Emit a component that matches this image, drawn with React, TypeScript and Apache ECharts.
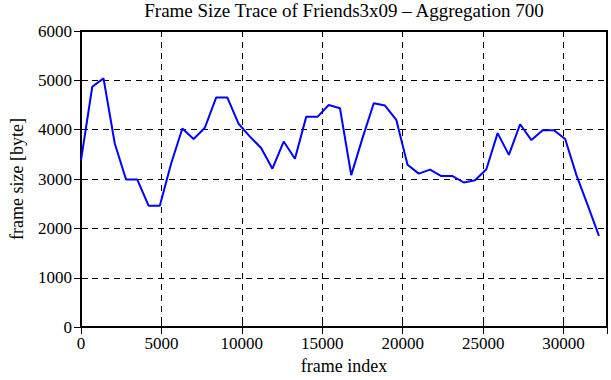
import React, { useEffect, useRef } from "react";
import * as echarts from "echarts";

const titleText = "Frame Size Trace of Friends3x09 \u2013 Aggregation 700";
const xName = "frame index";
const yName = "frame size [byte]";

const frameIndex = [
  0, 700, 1400, 2100, 2800, 3500, 4200, 4900, 5600, 6300, 7000, 7700, 8400, 9100, 9800, 10500,
  11200, 11900, 12600, 13300, 14000, 14700, 15400, 16100, 16800, 17500, 18200, 18900, 19600,
  20300, 21000, 21700, 22400, 23100, 23800, 24500, 25200, 25900, 26600, 27300, 28000, 28700,
  29400, 30100, 30800, 31500, 32200,
];
const frameSize = [
  3380, 4870, 5040, 3720, 2990, 2990, 2460, 2460, 3310, 4025, 3810, 4040, 4650, 4650, 4120, 3860,
  3630, 3210, 3760, 3410, 4260, 4260, 4500, 4435, 3080, 3830, 4535, 4490, 4200,
  3290, 3110, 3190, 3060, 3060, 2930, 2975, 3200, 3930, 3490, 4110, 3790, 3990,
  3990, 3810, 3080, 2470, 1850,
];

const xMin = 0;
const xMax = 32700;
const xInterval = 5000;
const yMin = 0;
const yMax = 6000;
const yInterval = 1000;

export default function App() {
  const ref = useRef<HTMLDivElement>(null);
  useEffect(() => {
    if (!ref.current) return;
    const chart = echarts.init(ref.current, null, { renderer: "svg" });
    const font = "Liberation Serif";
    const tickStyle = { show: true, inside: true, length: 7, lineStyle: { color: "#000", width: 1 } };
    const split = { show: true, lineStyle: { color: "#000", width: 1, type: [6, 5] as any } };
    const fmt = (v: number) => "{s|" + String(v) + "}";
    const rich = { s: { fontFamily: font, fontSize: 17, color: "#000" } };
    const data = frameIndex.map((x, i) => [x, frameSize[i]]);
    chart.setOption({
      animation: false,
      backgroundColor: "#fff",
      textStyle: { fontFamily: font },
      grid: {
        left: 81,
        right: 4,
        top: 31,
        bottom: 49,
        show: true,
        borderColor: "#000",
        borderWidth: 2,
        backgroundColor: "transparent",
        containLabel: false,
      },
      graphic: [
        {
          type: "text",
          x: 344,
          y: 1,
          style: {
            text: titleText,
            fontFamily: font,
            fontSize: 19,
            fill: "#000",
            textAlign: "center",
            textVerticalAlign: "top",
          },
        },
      ],
      xAxis: [
        {
          type: "value",
          min: xMin,
          max: xMax,
          interval: xInterval,
          position: "bottom",
          name: xName,
          nameLocation: "middle",
          nameGap: 29,
          nameTextStyle: { fontFamily: font, fontSize: 18, color: "#000", verticalAlign: "top" },
          axisLine: { show: false },
          axisTick: tickStyle,
          axisLabel: {
            show: true,
            fontFamily: font,
            fontSize: 17,
            color: "#000",
            margin: 8,
            showMaxLabel: false,
            formatter: fmt,
            rich,
          },
          splitLine: split,
        },
        {
          type: "value",
          min: xMin,
          max: xMax,
          interval: xInterval,
          position: "top",
          axisLine: { show: false },
          axisTick: tickStyle,
          axisLabel: { show: false },
          splitLine: { show: false },
        },
      ],
      yAxis: [
        {
          type: "value",
          min: yMin,
          max: yMax,
          interval: yInterval,
          position: "left",
          name: yName,
          nameLocation: "middle",
          nameGap: 55,
          nameRotate: 90,
          nameTextStyle: { fontFamily: font, fontSize: 18, color: "#000" },
          axisLine: { show: false },
          axisTick: tickStyle,
          axisLabel: {
            show: true,
            fontFamily: font,
            fontSize: 17,
            color: "#000",
            margin: 9,
            formatter: fmt,
            rich,
          },
          splitLine: split,
        },
        {
          type: "value",
          min: yMin,
          max: yMax,
          interval: yInterval,
          position: "right",
          axisLine: { show: false },
          axisTick: tickStyle,
          axisLabel: { show: false },
          splitLine: { show: false },
        },
      ],
      series: [
        {
          type: "line",
          xAxisIndex: 0,
          yAxisIndex: 0,
          data,
          showSymbol: false,
          symbol: "none",
          lineStyle: { color: "#0000ff", width: 2 },
          z: 5,
        },
      ],
    });
    return () => chart.dispose();
  }, []);
  return <div ref={ref} style={{ width: 611, height: 380, position: "absolute", left: 0, top: 0 }} />;
}
